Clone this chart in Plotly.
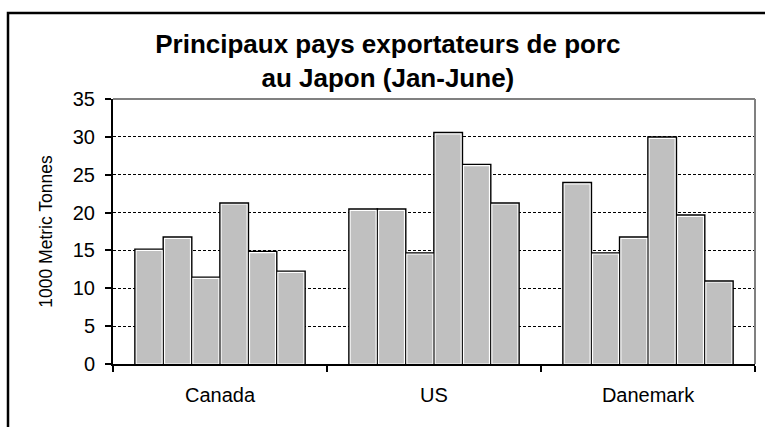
import plotly.graph_objects as go

categories = ["Canada", "US", "Danemark"]
series_names = ["Série 1", "Série 2", "Série 3", "Série 4", "Série 5", "Série 6"]
series_values = [
    [15.0, 20.3, 23.8],
    [16.6, 20.3, 14.5],
    [11.3, 14.5, 16.6],
    [21.1, 30.4, 29.8],
    [14.7, 26.2, 19.5],
    [12.1, 21.1, 10.8],
]
y_ticks = [0, 5, 10, 15, 20, 25, 30, 35]

title_text = "Principaux pays exportateurs de porc<br>au Japon (Jan-June)"
y_title = "1000 Metric Tonnes"

FONT = "Liberation Sans, Arial, sans-serif"
n = len(series_values)
pitch = 0.1324
bar_w = 0.1215

fig = go.Figure()
# dark "shadow/outline" layer
for i, (name, vals) in enumerate(zip(series_names, series_values)):
    off = -n / 2 * pitch + i * pitch + (pitch - bar_w) / 2
    fig.add_trace(go.Bar(
        x=categories, y=vals, name=name, width=bar_w, offset=off,
        marker=dict(color="#000000", line=dict(color="#000000", width=4)),
        showlegend=False, hoverinfo="skip",
    ))
# grey face with white highlight
for i, (name, vals) in enumerate(zip(series_names, series_values)):
    off = -n / 2 * pitch + i * pitch + (pitch - bar_w) / 2
    fig.add_trace(go.Bar(
        x=categories, y=vals, name=name, width=bar_w, offset=off,
        marker=dict(color="#c0c0c0", line=dict(color="#ffffff", width=1.2)),
        showlegend=False,
    ))

fig.update_layout(
    width=765, height=427,
    barmode="overlay",
    paper_bgcolor="white", plot_bgcolor="white",
    margin=dict(l=113, r=10, t=99, b=63),
    font=dict(family=FONT, color="black", size=20),
    showlegend=False,
    title=dict(
        text=title_text, x=0.507, xref="container", xanchor="center",
        y=0.876, yref="container", yanchor="top",
        font=dict(family=FONT, size=26, color="black", weight="bold"),
    ),
    xaxis=dict(
        type="category", showline=True, linecolor="black", linewidth=2,
        ticks="outside", ticklen=6, tickwidth=2, tickcolor="black",
        tickson="boundaries", showgrid=False,
        tickfont=dict(family=FONT, size=20), ticklabelstandoff=12,
    ),
    yaxis=dict(
        range=[0, 35], tickvals=y_ticks, showline=True, linecolor="black",
        linewidth=2, ticks="outside", ticklen=6, tickwidth=2, tickcolor="black",
        showgrid=True, gridcolor="black", gridwidth=1, griddash="3px,2px",
        zeroline=False, tickfont=dict(family=FONT, size=20), ticklabelstandoff=6,
        title=dict(text=y_title, font=dict(family=FONT, size=17.5), standoff=16),
    ),
    shapes=[
        # plot area border (top and right), grey
        dict(type="line", xref="paper", yref="paper", x0=0, x1=1, y0=1, y1=1,
             line=dict(color="#808080", width=2)),
        dict(type="line", xref="paper", yref="paper", x0=1, x1=1, y0=0, y1=1,
             line=dict(color="#808080", width=2)),
        # outer chart border
        dict(type="rect", xref="paper", yref="paper",
             x0=(8 - 113) / 642, x1=(790 - 113) / 642,
             y0=(364 - 450) / 265, y1=(364 - 13) / 265,
             line=dict(color="black", width=2.5), fillcolor="rgba(0,0,0,0)"),
    ],
)

fig.write_html(
    "out.html",
    config={"displayModeBar": False},
    post_script="document.body.style.margin='0';document.body.style.overflow='hidden';",
)
